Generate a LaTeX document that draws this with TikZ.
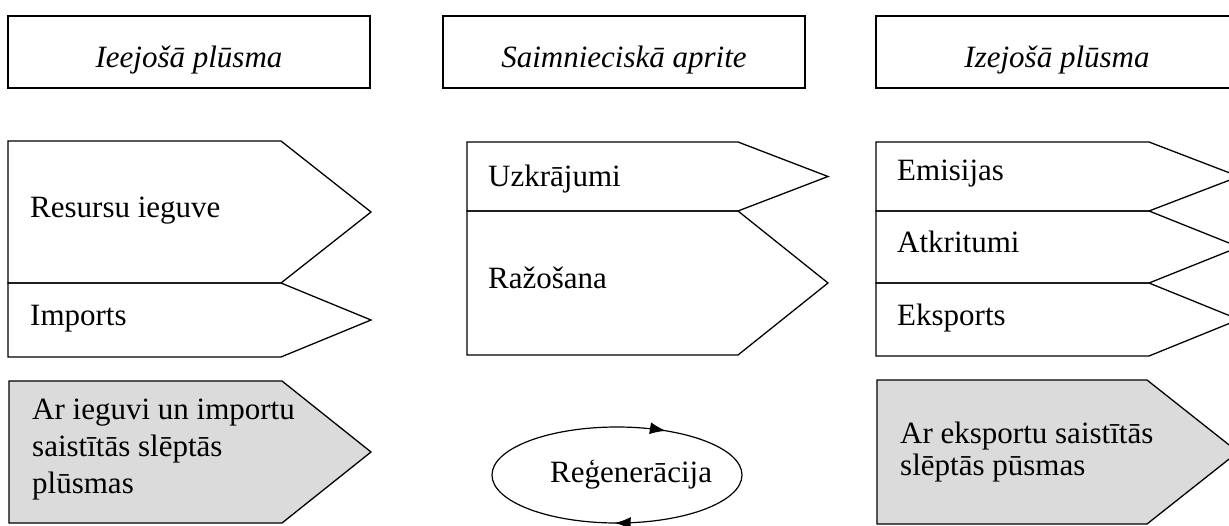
\documentclass[tikz,border=0pt]{standalone}
\usepackage{fontspec}
\setmainfont{Liberation Serif}
\usetikzlibrary{arrows.meta,decorations.markings}

\begin{document}
\begin{tikzpicture}[
  x=1pt, y=-1pt,
  headnode/.style={draw,line width=1.3pt,minimum width=362pt,minimum height=72pt,text height=30pt,text depth=0pt,font=\itshape\fontsize{31}{37}\selectfont},
  flownode/.style={anchor=base west,inner sep=0pt,align=left,font=\fontsize{31}{37}\selectfont},
  ]
  \tikzset{%
    flowline/.style={
      draw,
      line width=1.3pt,
      line join=miter,
    },
    hidden flow/.style={
      flowline,
      fill=black!14,
    },
  }
  \clip (0,0) rectangle (1229,525);
  %Headers
  \node[headnode](inflow) at (189,52){Ieejošā plūsma};
  \node[headnode](economy) at (624,52){Saimnieciskā aprite};
  \node[headnode](outflow) at (1057,52){Izejošā plūsma};
  %Arrow boxes
  \path[flowline] (8,141) -- (281,141) -- (371,212) -- (281,283) -- (8,283) -- cycle;
  \path[flowline] (8,283) -- (281,283) -- (371,320) -- (281,357) -- (8,357) -- cycle;
  \path[hidden flow] (9,381) -- (282,381) -- (371,452) -- (282,523) -- (9,523) -- cycle;
  \path[flowline] (467,142) -- (738,142) -- (828,176.5) -- (738,211) -- (467,211) -- cycle;
  \path[flowline] (467,211) -- (738,211) -- (828,283) -- (738,355) -- (467,355) -- cycle;
  \path[flowline] (876,142) -- (1149,142) -- (1239,176.5) -- (1149,211) -- (876,211) -- cycle;
  \path[flowline] (876,211) -- (1149,211) -- (1239,247) -- (1149,283) -- (876,283) -- cycle;
  \path[flowline] (876,283) -- (1149,283) -- (1239,319.5) -- (1149,356) -- (876,356) -- cycle;
  \path[hidden flow] (877,380) -- (1147,380) -- (1238,452) -- (1147,524) -- (877,524) -- cycle;
  %Texts
  \node[flownode](extraction) at (30,217){Resursu ieguve};
  \node[flownode](imports) at (30,325){Imports};
  \node[flownode,anchor=west](hiddenin) at (32,450){Ar ieguvi un importu\\saistītās slēptās\\plūsmas};
  \node[flownode](stocks) at (488,186){Uzkrājumi};
  \node[flownode](production) at (488,288){Ražošana};
  \node[flownode](emissions) at (897,180){Emisijas};
  \node[flownode](waste) at (897,252){Atkritumi};
  \node[flownode](exports) at (897,325){Eksports};
  \node[flownode,anchor=west,font=\fontsize{31}{32}\selectfont](hiddenout) at (900,452){Ar eksportu saistītās\\slēptās pūsmas};
  %Regeneration
  \draw[line width=1.2pt,postaction={decorate},
    decoration={markings,
      mark=at position 0.254 with {\arrow{Latex[length=16pt,width=12pt]}},
      mark=at position 0.836 with {\arrow{Latex[length=16pt,width=12pt]}}}]
    (617,475) ellipse [x radius=125, y radius=48];
  \node[flownode](regen) at (550,482){Reģenerācija};
\end{tikzpicture}
\end{document}
